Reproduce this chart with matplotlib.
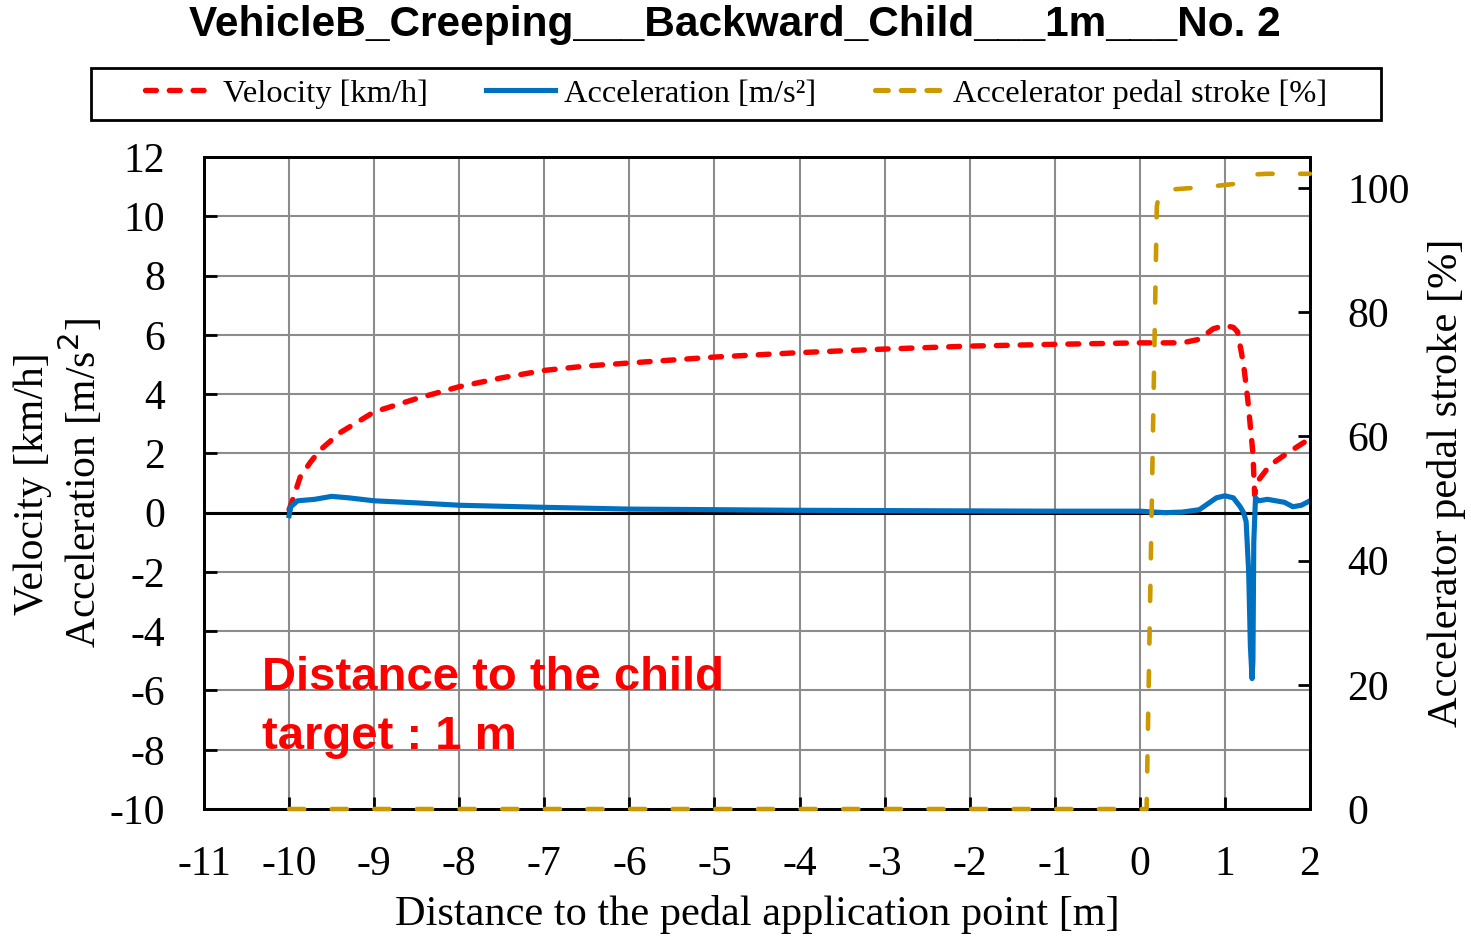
import matplotlib
matplotlib.use("Agg")
import matplotlib.pyplot as plt
from matplotlib.lines import Line2D
from matplotlib.patches import Rectangle

plt.rcParams["axes.unicode_minus"] = False

# データ
vel_x = [-10, -9.95, -9.87, -9.75, -9.64, -9.4, -9.0, -8.5, -8.0, -7.5, -7.0, -6.5,
         -6.0, -5.0, -4.0, -3.0, -2.0, -1.0, 0.0, 0.5, 0.7, 0.86, 1.0, 1.1, 1.15,
         1.22, 1.27, 1.33, 1.35, 1.37, 1.45, 1.53, 1.73, 2.0]
vel_y = [0.1, 0.5, 1.2, 1.7, 2.1, 2.7, 3.4, 3.85, 4.25, 4.55, 4.8, 4.95,
         5.05, 5.25, 5.4, 5.52, 5.62, 5.68, 5.73, 5.73, 5.85, 6.2, 6.32, 6.25, 6.1,
         5.0, 3.8, 2.0, 0.6, 1.0, 1.3, 1.6, 2.0, 2.5]

acc_x = [-10.0, -9.98, -9.9, -9.7, -9.5, -9.3, -9.0, -8.5, -8.0, -7.0, -6.0, -5.0,
         -4.0, -3.0, -2.0, -1.0, 0.0, 0.3, 0.5, 0.7, 0.8, 0.9, 1.0, 1.1, 1.18, 1.22,
         1.25, 1.28, 1.3, 1.32, 1.33, 1.34, 1.36, 1.4, 1.5, 1.6, 1.7, 1.8, 1.9, 2.0]
acc_y = [-0.1, 0.2, 0.4, 0.45, 0.55, 0.5, 0.4, 0.33, 0.25, 0.18, 0.12, 0.1,
         0.08, 0.07, 0.06, 0.05, 0.05, 0.0, 0.02, 0.1, 0.3, 0.5, 0.57, 0.5, 0.2, 0.0,
         -0.3, -2.0, -4.5, -5.6, -5.0, -1.0, 0.5, 0.4, 0.45, 0.4, 0.35, 0.2, 0.25, 0.4]

ped_x = [-10, 0.08, 0.2, 0.23, 0.4, 0.6, 0.8, 1.0, 1.2, 1.3, 1.35, 1.5, 2.0]
ped_y = [0, 0, 97, 99.5, 99.8, 100, 100.2, 100.5, 100.8, 101.5, 102.2, 102.3, 102.3]

x_ticks = list(range(-11, 3))
y_ticks = list(range(-10, 13, 2))
y2_ticks = [0, 20, 40, 60, 80, 100]

serif = "Liberation Serif"
sans = "Liberation Sans"

fig = plt.figure(figsize=(14.71, 9.38), dpi=100)
ax = fig.add_axes([0.1387, 0.1375, 0.7518, 0.6951])
ax2 = ax.twinx()

red = "#FF0000"
blue = "#0070C0"
gold = "#CC9900"
vel_ls = (0, (2.0, 2.4))
ped_ls = (0, (3.3, 6.0))

ax.plot(vel_x, vel_y, color=red, lw=3.9, linestyle=vel_ls,
        dash_capstyle="round", zorder=4)
ax.plot(acc_x, acc_y, color=blue, lw=3.7, zorder=5)
ax2.plot(ped_x, ped_y, color=gold, lw=3.3, linestyle=ped_ls,
         dash_capstyle="round", clip_on=False, zorder=4)

ax.axhline(0, color="black", lw=2.2, zorder=3)

ax.set_xlim(-11, 2)
ax.set_ylim(-10, 12)
ax2.set_ylim(0, 105)
ax.set_xticks(x_ticks)
ax.set_yticks(y_ticks)
ax2.set_yticks(y2_ticks)
ax.grid(True, color="#8c8c8c", lw=1.5)
ax.set_axisbelow(True)

for a in (ax, ax2):
    a.tick_params(direction="in", length=9, width=2, labelsize=30)
    for lab in a.get_xticklabels() + a.get_yticklabels():
        lab.set_fontfamily(serif)
    for s in a.spines.values():
        s.set_linewidth(2)
        s.set_color("black")
ax.tick_params(axis="x", pad=26)
ax.tick_params(axis="y", pad=28)
ax2.tick_params(axis="y", pad=27)

ax.set_xlabel("Distance to the pedal application point [m]", fontsize=30.5,
              fontfamily=serif, labelpad=8)
ax2.set_ylabel("Accelerator pedal stroke [%]", fontsize=30.5, fontfamily=serif,
               labelpad=12)
fig.text(0.022, 0.4845, "Velocity [km/h]", rotation=90, fontsize=30,
         fontfamily=serif, ha="center", va="center")
fig.text(0.055, 0.4845, "Acceleration [m/s$^2$]", rotation=90, fontsize=30,
         fontfamily=serif, ha="center", va="center")

ax.text(-10.32, -4.85, "Distance to the child\ntarget : 1 m", color=red,
        fontsize=34, fontweight="bold", fontfamily=sans, va="top", ha="left",
        linespacing=1.42)

fig.suptitle("VehicleB_Creeping___Backward_Child___1m___No. 2", x=0.4996,
             y=0.995, fontsize=30.5, fontweight="bold", fontfamily=sans, va="top")

# 凡例（枠は別に描く）
fig.patches.append(Rectangle((0.0619, 0.872), 0.877, 0.0555, transform=fig.transFigure,
                             fill=False, edgecolor="black", lw=2))
handles = [
    Line2D([], [], color=red, lw=3.9, linestyle=vel_ls, dash_capstyle="round"),
    Line2D([], [], color=blue, lw=3.7),
    Line2D([], [], color=gold, lw=3.7, linestyle=(0, (2.5, 2.5)), dash_capstyle="round"),
]
labels = ["Velocity [km/h]", "Acceleration [m/s²]", "Accelerator pedal stroke [%]"]
leg = fig.legend(handles, labels, loc="center", ncol=3,
                 bbox_to_anchor=(0.5003, 0.8998), frameon=False,
                 prop={"family": serif, "size": 23.4},
                 handlelength=2.1, handletextpad=0.3, columnspacing=1.8,
                 borderaxespad=0)

plt.savefig("out.png", dpi=100)
